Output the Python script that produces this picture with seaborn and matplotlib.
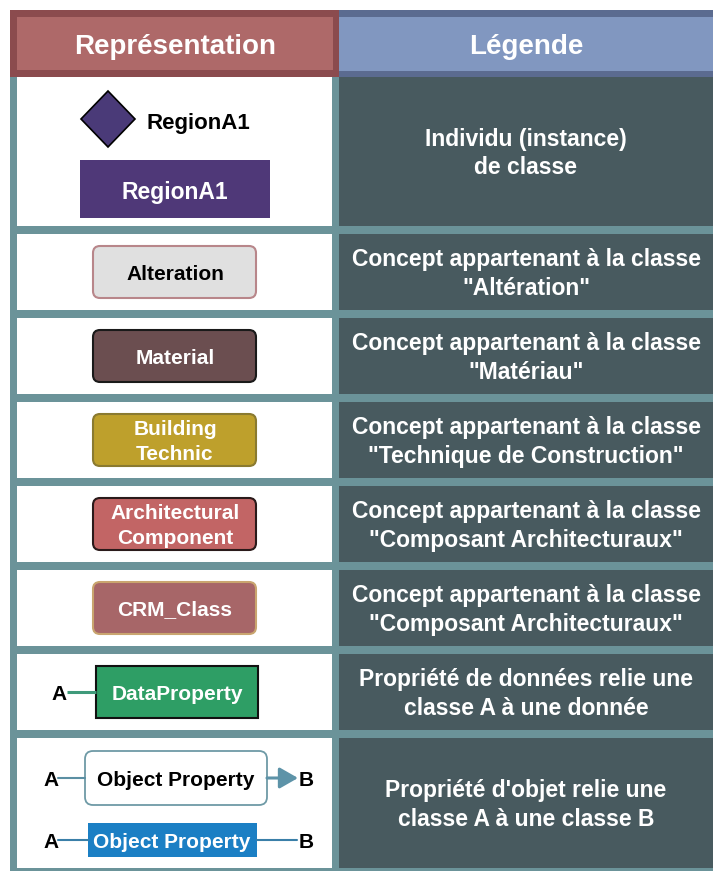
import matplotlib
matplotlib.use("Agg")
import matplotlib.pyplot as plt
import seaborn as sns
from matplotlib.patches import Rectangle, FancyBboxPatch, Polygon, FancyArrowPatch

sns.set_theme(style="white")
plt.rcParams['font.family'] = ['Liberation Sans', 'DejaVu Sans']

# ---- content ----
header_left = "Représentation"
header_right = "Légende"

individual_label = "RegionA1"
individual_text = "Individu (instance)\nde classe"

concept_labels = ["Alteration", "Material", "Building\nTechnic",
                  "Architectural\nComponent", "CRM_Class"]
concept_fills = ["#e0e0e0", "#6b4e50", "#bea02c", "#c26565", "#a76668"]
concept_edges = ["#b8868a", "#1a1a1a", "#8a7a30", "#2a1a1a", "#c9a56f"]
concept_textcolors = ["black", "white", "white", "white", "white"]
concept_texts = [
    "Concept appartenant à la classe\n\"Altération\"",
    "Concept appartenant à la classe\n\"Matériau\"",
    "Concept appartenant à la classe\n\"Technique de Construction\"",
    "Concept appartenant à la classe\n\"Composant Architecturaux\"",
    "Concept appartenant à la classe\n\"Composant Architecturaux\"",
]

data_prop_label = "DataProperty"
data_prop_text = "Propriété de données relie une\nclasse A à une donnée"

obj_prop_label = "Object Property"
obj_prop_text = "Propriété d'objet relie une\nclasse A à une classe B"

# ---- colours ----
RED_FILL, RED_EDGE = "#ae6969", "#8b4b4e"
BLUE_FILL, BLUE_EDGE = "#8197c0", "#5b6b90"
TEAL = "#6b9399"
DARK = "#485a5f"

# ---- layout (pixels) ----
W, H = 713, 873
row_tops = [77, 234, 318, 402, 486, 570, 654, 738]
row_bots = [226, 310, 394, 478, 562, 646, 730, 868]
LX0, LX1 = 17, 332
RX0, RX1 = 339, 713
RCX = 526

fig = plt.figure(figsize=(W / 100, H / 100), dpi=100)
ax = fig.add_axes([0, 0, 1, 1])
ax.set_xlim(0, W)
ax.set_ylim(H, 0)
ax.axis("off")

# header
ax.add_patch(Rectangle((10, 10), 329, 67, facecolor=RED_EDGE, edgecolor="none"))
ax.add_patch(Rectangle((17, 17), 316, 53, facecolor=RED_FILL, edgecolor="none"))
ax.add_patch(Rectangle((339, 10), 374, 67, facecolor=BLUE_EDGE, edgecolor="none"))
ax.add_patch(Rectangle((339, 17), 374, 54, facecolor=BLUE_FILL, edgecolor="none"))
ax.text(175, 44, header_left, color="white", fontsize=20, fontweight="bold",
        ha="center", va="center_baseline")
ax.text(RCX, 44, header_right, color="white", fontsize=20, fontweight="bold",
        ha="center", va="center_baseline")

# table background
ax.add_patch(Rectangle((10, 77), 703, 794, facecolor=TEAL, edgecolor="none"))
for t, b in zip(row_tops, row_bots):
    ax.add_patch(Rectangle((LX0, t), LX1 - LX0, b - t, facecolor="white", edgecolor="none"))
    ax.add_patch(Rectangle((RX0, t), RX1 - RX0, b - t, facecolor=DARK, edgecolor="none"))

RT_FS = 16.5
BOX_FS = 15

def right_text(i, s):
    cy = (row_tops[i] + row_bots[i]) / 2
    ax.text(RCX, cy + 2, s, color="white", fontsize=RT_FS, fontweight="bold",
            ha="center", va="center", linespacing=1.32)

# row 1: individual
ax.add_patch(Polygon([(108, 91), (135, 119), (108, 147), (81, 119)], closed=True,
                     facecolor="#4a3a78", edgecolor="black", lw=1.2))
ax.text(147, 121, individual_label, color="black", fontsize=16, fontweight="bold",
        ha="left", va="center_baseline")
ax.add_patch(Rectangle((80, 160), 190, 58, facecolor="#4f3878", edgecolor="none"))
ax.text(175, 190, individual_label, color="white", fontsize=16.5, fontweight="bold",
        ha="center", va="center_baseline")
right_text(0, individual_text)

# rows 2-6: concepts
for k, (lab, fc, ec, tc, txt) in enumerate(zip(concept_labels, concept_fills, concept_edges,
                                               concept_textcolors, concept_texts)):
    i = k + 1
    cy = (row_tops[i] + row_bots[i]) / 2
    ax.add_patch(FancyBboxPatch((93, cy - 26), 163, 52,
                                boxstyle="round,pad=0,rounding_size=7",
                                facecolor=fc, edgecolor=ec, lw=1.5))
    ax.text(175, cy + 2, lab, color=tc, fontsize=BOX_FS, fontweight="bold",
            ha="center", va="center", linespacing=1.45)
    right_text(i, txt)

# row 7: data property
cy = (row_tops[6] + row_bots[6]) / 2
ax.add_patch(Rectangle((96, cy - 26), 162, 52, facecolor="#2e9e65", edgecolor="#111111", lw=1.5))
ax.text(177, cy, data_prop_label, color="white", fontsize=BOX_FS, fontweight="bold",
        ha="center", va="center_baseline")
ax.plot([67, 96], [cy, cy], color="#3f9a7a", lw=2.2, solid_capstyle="butt")
ax.text(59, cy, "A", color="black", fontsize=BOX_FS, fontweight="bold",
        ha="center", va="center_baseline")
right_text(6, data_prop_text)

# row 8: object property
y1 = 778
ax.add_patch(FancyBboxPatch((85, y1 - 27), 182, 54,
                            boxstyle="round,pad=0,rounding_size=8",
                            facecolor="white", edgecolor="#6e9aa6", lw=1.3))
ax.text(176, y1, obj_prop_label, color="black", fontsize=BOX_FS, fontweight="bold",
        ha="center", va="center_baseline")
ax.plot([58, 85], [y1, y1], color="#5b8fa3", lw=1.5)
ax.add_patch(FancyArrowPatch((267, y1), (298, y1),
                             arrowstyle="-|>,head_length=7,head_width=4",
                             color="#5d93a8", lw=2.2, mutation_scale=1.6,
                             shrinkA=0, shrinkB=0))
ax.text(51, y1, "A", color="black", fontsize=BOX_FS, fontweight="bold",
        ha="center", va="center_baseline")
ax.text(306, y1, "B", color="black", fontsize=BOX_FS, fontweight="bold",
        ha="center", va="center_baseline")

y2 = 840
ax.add_patch(Rectangle((88, y2 - 17), 169, 34, facecolor="#1b7fc4", edgecolor="none"))
ax.text(172, y2, obj_prop_label, color="white", fontsize=BOX_FS, fontweight="bold",
        ha="center", va="center_baseline")
ax.plot([58, 88], [y2, y2], color="#3a7fa8", lw=1.5)
ax.plot([257, 297], [y2, y2], color="#3a7fa8", lw=1.5)
ax.text(51, y2, "A", color="black", fontsize=BOX_FS, fontweight="bold",
        ha="center", va="center_baseline")
ax.text(306, y2, "B", color="black", fontsize=BOX_FS, fontweight="bold",
        ha="center", va="center_baseline")
right_text(7, obj_prop_text)

fig.savefig("out.png", dpi=100, facecolor="white")
